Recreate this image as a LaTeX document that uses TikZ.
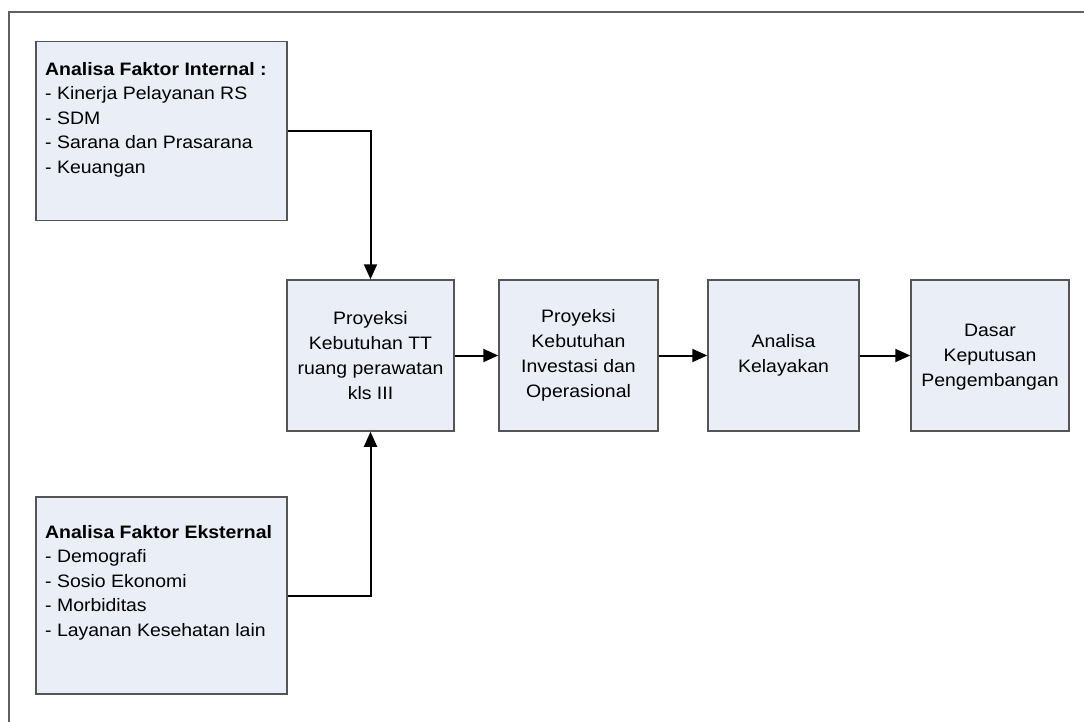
\documentclass[tikz,border=0pt]{standalone}
\usepackage{fontspec}
\setmainfont{Liberation Sans}[FakeStretch=1.08]
\usetikzlibrary{arrows.meta}
\definecolor{boxfill}{HTML}{E9EEF7}
\definecolor{boxline}{HTML}{555555}
\definecolor{framecol}{HTML}{606060}
\tikzset{
  box/.style={draw=boxline, line width=1.5pt, fill=boxfill, inner sep=0pt, anchor=center},
  listtext/.style={inner sep=0pt, anchor=north west, align=left, font=\fontsize{18pt}{24.5pt}\selectfont},
  steptext/.style={inner sep=0pt, align=center, font=\fontsize{18pt}{25pt}\selectfont},
  conn/.style={line width=2pt, black, -{Triangle[length=15pt,width=13pt]}},
  framestyle/.style={draw=framecol, line width=1.5pt}
}
\begin{document}
\begin{tikzpicture}[x=1pt,y=-1pt]
\useasboundingbox (0,0) rectangle (1084,722);
% frame
\coordinate (ftl) at (9,12);
\coordinate (ftr) at (1084,12);
\coordinate (fbl) at (9,722);
\draw[framestyle] (fbl) -- (ftl) -- (ftr);
% left boxes
\node[box, minimum width=251pt, minimum height=179pt] (int) at (161.5,131) {};
\node[listtext] (intt) at (45,62) {\textbf{Analisa Faktor Internal :}\\- Kinerja Pelayanan RS\\- SDM\\- Sarana dan Prasarana\\- Keuangan};
\node[box, minimum width=251pt, minimum height=197pt] (ext) at (161.5,595.5) {};
\node[listtext] (extt) at (45,525) {\textbf{Analisa Faktor Eksternal}\\- Demografi\\- Sosio Ekonomi\\- Morbiditas\\- Layanan Kesehatan lain};
% step boxes
\node[box, minimum width=167pt, minimum height=151pt] (p1) at (370.5,355.5) {};
\node[steptext] (p1t) at (370.5,355.5) {Proyeksi\\Kebutuhan TT\\ruang perawatan\\kls III};
\node[box, minimum width=159pt, minimum height=151pt] (p2) at (578.5,355.5) {};
\node[steptext] (p2t) at (578.5,355.5) {Proyeksi\\Kebutuhan\\Investasi dan\\Operasional};
\node[box, minimum width=151pt, minimum height=151pt] (p3) at (783.5,355.5) {};
\node[steptext] (p3t) at (783.5,355.5) {Analisa\\Kelayakan};
\node[box, minimum width=158pt, minimum height=151pt] (p4) at (990,355.5) {};
\node[steptext] (p4t) at (990,357) {Dasar\\Keputusan\\Pengembangan};
% connectors
\draw[conn] (int.east) -| (p1.north);
\draw[conn] (ext.east) -| (p1.south);
\draw[conn] (p1.east) -- (p2.west);
\draw[conn] (p2.east) -- (p3.west);
\draw[conn] (p3.east) -- (p4.west);
\end{tikzpicture}
\end{document}
